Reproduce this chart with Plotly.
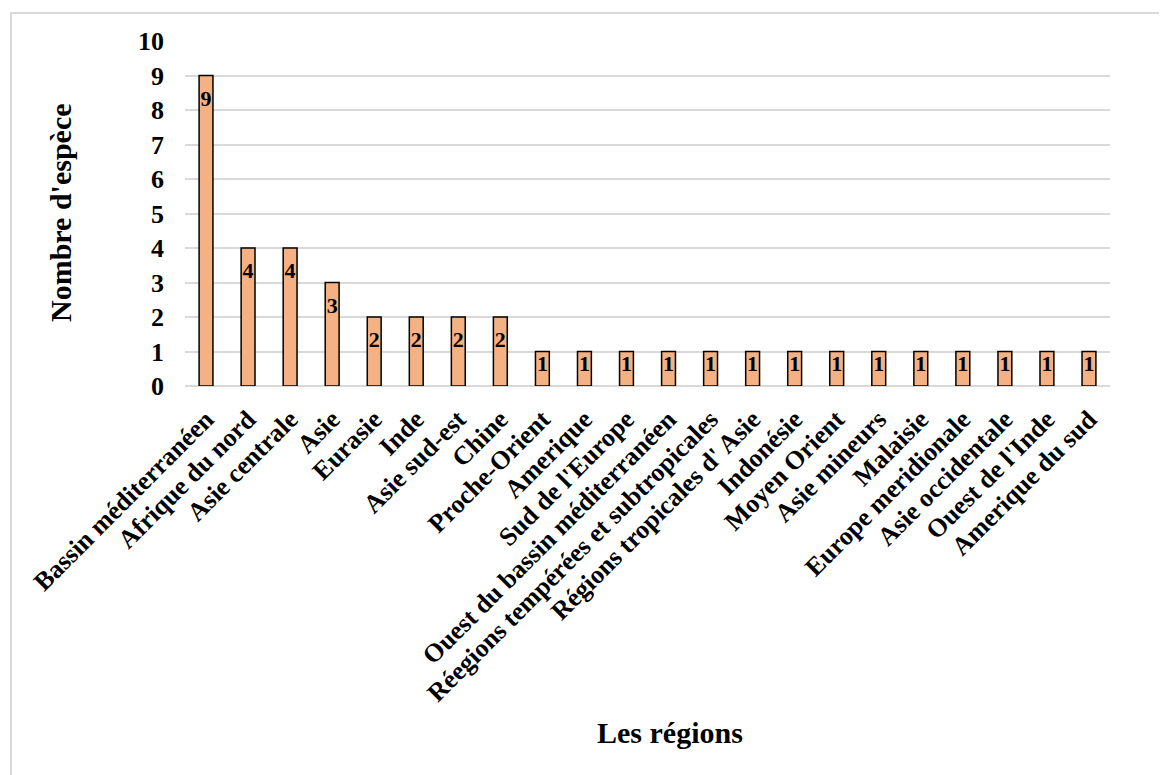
import plotly.graph_objects as go

regions = [
    "Bassin méditerranéen", "Afrique du nord", "Asie centrale", "Asie", "Eurasie",
    "Inde", "Asie sud-est", "Chine", "Proche-Orient", "Amerique", "Sud de l'Europe",
    "Ouest du bassin méditerranéen", "Réegions tempérées et subtropicales",
    "Régions tropicales d' Asie", "Indonésie", "Moyen Orient", "Asie mineurs",
    "Malaisie", "Europe meridionale", "Asie occidentale", "Ouest de l'Inde",
    "Amerique du sud",
]
counts = [9, 4, 4, 3, 2, 2, 2, 2, 1, 1, 1, 1, 1, 1, 1, 1, 1, 1, 1, 1, 1, 1]
y_ticks = list(range(0, 11))

FONT = "Times New Roman, Liberation Serif, serif"

# page body has an 8px margin; work in page coords minus 8
OFF = 8
W, H = 1167 - OFF, 775 - OFF
L, T = 185 - OFF, 41 - OFF
PR, PB = 1110 - OFF, 386 - OFF  # plot right / bottom in figure px
R, B = W - PR, H - PB
pw, ph = PR - L, PB - T


def px_x(x):
    return (x - OFF - L) / pw


def px_y(y):
    return (PB - (y - OFF)) / ph


label_y = [max(v - 0.72, 0.6) for v in counts]

fig = go.Figure()
fig.add_trace(go.Bar(
    x=regions, y=counts,
    marker=dict(color="#F4B183", line=dict(color="#000000", width=1.5)),
    hoverinfo="x+y", showlegend=False,
))
fig.add_trace(go.Scatter(
    x=regions, y=label_y, text=[str(v) for v in counts], mode="text",
    textposition="middle center",
    textfont=dict(family=FONT, size=22, color="#000000", weight="bold"),
    hoverinfo="skip", showlegend=False,
))

fig.update_layout(
    width=W, height=H,
    margin=dict(l=L, r=R, t=T, b=B, autoexpand=False),
    paper_bgcolor="white", plot_bgcolor="white",
    bargap=0.67,
    font=dict(family=FONT, color="#000000"),
    xaxis=dict(
        range=[-0.5, len(regions) - 0.5],
        tickangle=-45, automargin=False, showgrid=False,
        showline=False, ticks="", ticklabelstandoff=12,
        tickfont=dict(family=FONT, size=26, color="#000000", weight="bold"),
    ),
    yaxis=dict(
        range=[0, 10], tickvals=y_ticks, automargin=False,
        showgrid=True, gridcolor="#D9D9D9", gridwidth=1.5,
        zeroline=True, zerolinecolor="#D9D9D9", zerolinewidth=2,
        showline=False, ticks="", ticklabelstandoff=20,
        tickfont=dict(family=FONT, size=26, color="#000000", weight="bold"),
    ),
    annotations=[
        dict(text="Nombre d'espèce", textangle=-90, xref="paper", yref="paper",
             x=px_x(60), y=px_y(213), xanchor="center", yanchor="middle",
             showarrow=False,
             font=dict(family=FONT, size=30, color="#000000", weight="bold")),
        dict(text="Les régions", xref="paper", yref="paper",
             x=px_x(670), y=px_y(733),
             xanchor="center", yanchor="middle", showarrow=False,
             font=dict(family=FONT, size=30, color="#000000", weight="bold")),
    ],
    shapes=[
        dict(type="rect", xref="paper", yref="paper",
             x0=px_x(11), x1=px_x(1185),
             y0=px_y(800), y1=px_y(13),
             line=dict(color="#D9D9D9", width=2), layer="below"),
    ],
)

fig.write_html("out.html")
